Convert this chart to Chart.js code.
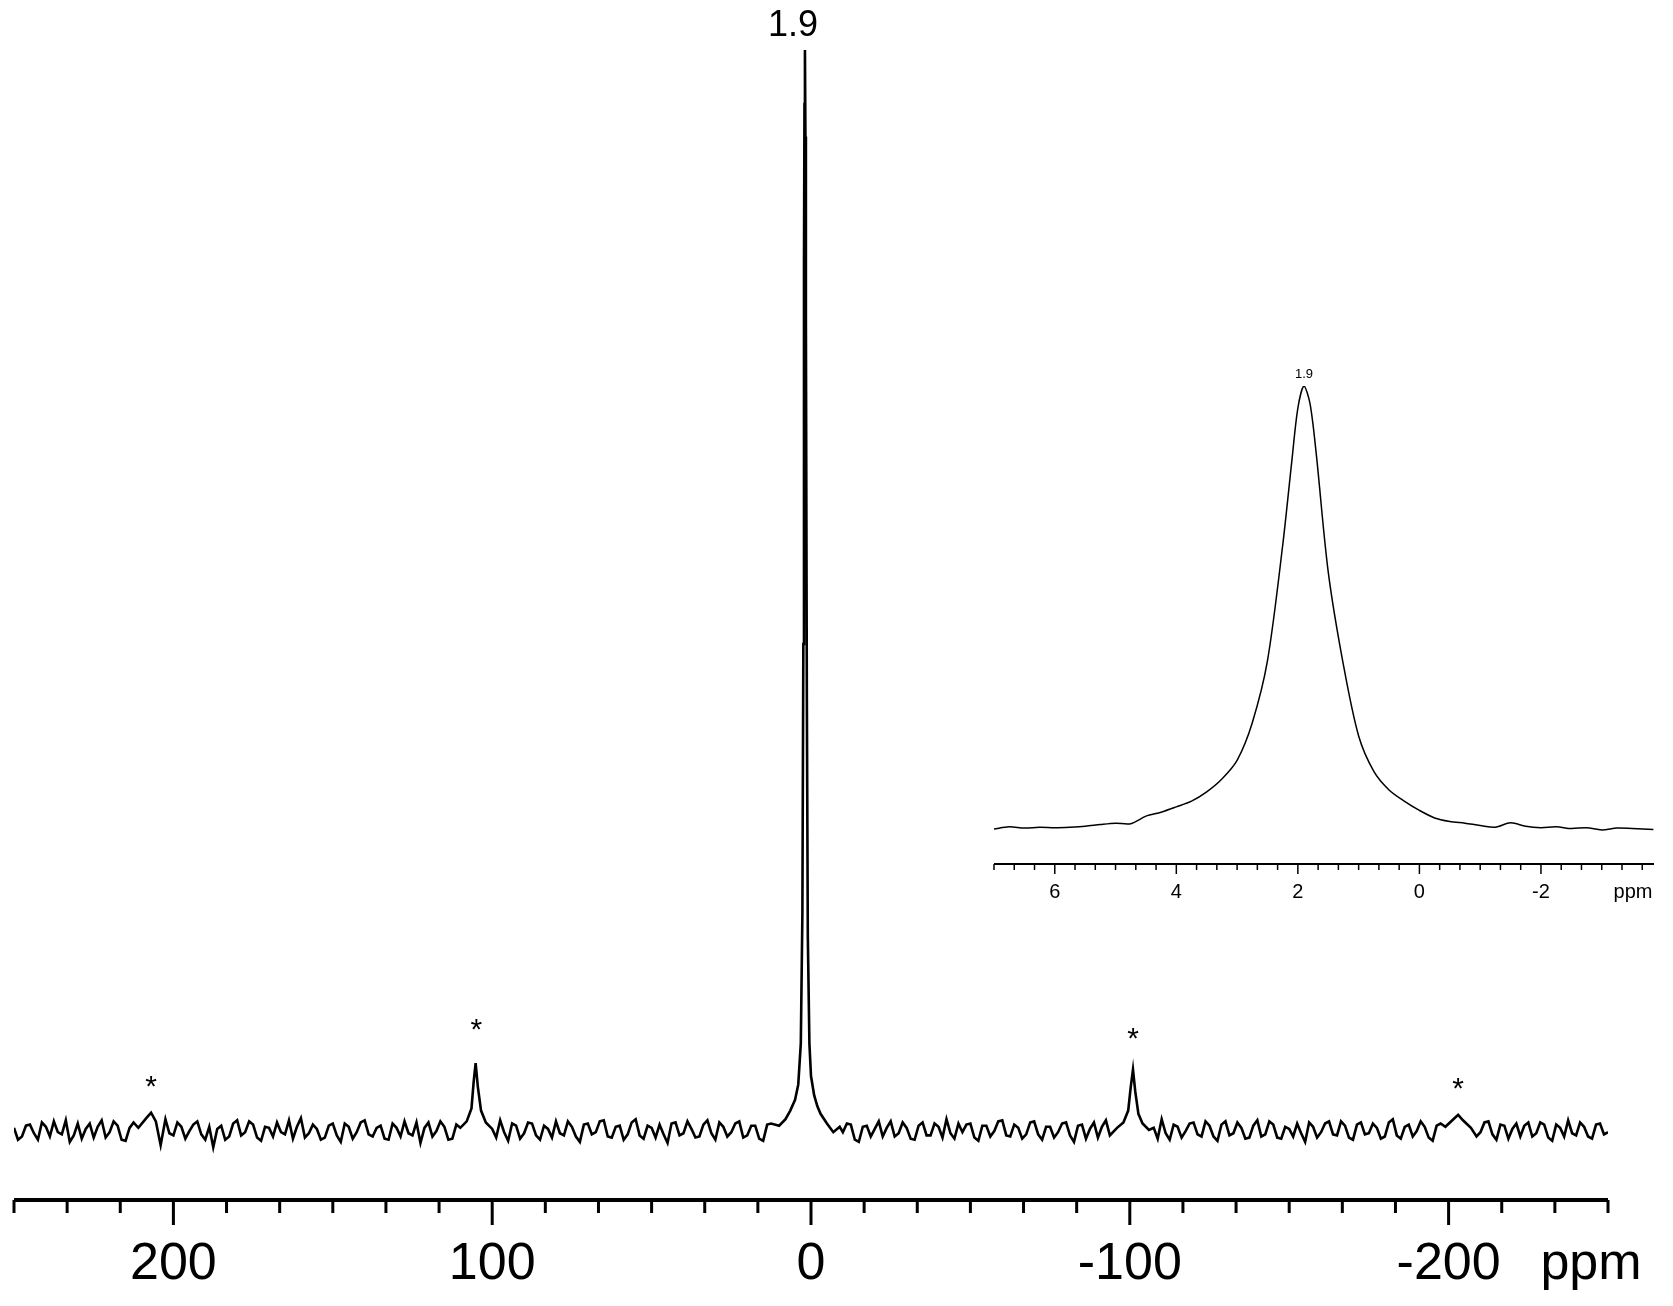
<!DOCTYPE html>
<html>
<head>
<meta charset="utf-8">
<script src="https://cdn.jsdelivr.net/npm/chart.js@4/dist/chart.umd.min.js"></script>
<style>
  html, body { margin: 0; padding: 0; background: #fff; }
  #wrap { position: relative; width: 1673px; height: 1306px; }
  #wrap canvas { position: absolute; left: 0; top: 0; }
</style>
</head>
<body>
<div id="wrap">
  <canvas id="main" width="1673" height="1306"></canvas>
  <canvas id="inset" width="1673" height="1306"></canvas>
</div>
<script>
// main spectrum: baseline noise every 2.5 ppm from 250 down to -250
const noiseStart = 250, noiseStep = 2.5;
const noise = [
  0.2,-0.6,0.5,-0.9,0.3,0.8,-0.4,-1.1,0.6,0.1,
  -0.7,0.9,-0.2,0.4,-1.0,0.7,-0.3,0.2,-0.8,1.0,
  -0.5,0.3,-0.1,0.8,-0.9,-1.6,0.4,-0.6,0.9,-0.2,
  0.5,-1.0,0.2,0.7,-0.4,-0.8,1.1,-0.3,0.1,-0.7,
  0.6,-1.1,0.3,-0.2,0.9,-0.6,0.4,-0.9,0.2,0.8,
  -0.5,-1.2,0.7,-0.1,0.3,-0.8,1.0,-0.4,0.5,-0.7,
  0.2,0.9,-1.0,0.4,-0.3,0.6,-0.9,0.1,0.8,-0.5,
  0.3,-1.1,0.6,-0.2,0.9,-0.7,0.4,-0.4,1.0,-0.8,
  0.2,0.5,-1.2,0.7,-0.3,0.1,-0.6,0.9,-0.9,0.3,
  -0.2,0.8,-0.5,0.4,-1.0,0.6,-0.1,0.2,-0.8,1.0,
  -0.4,0.3,-0.7,0.9,-0.2,0.5,-1.1,0.4,0.1,-0.6,
  0.8,-0.3,0.2,-0.9,0.7,-0.5,0.3,1.0,-0.8,-0.2,
  0.6,-1.0,0.4,-0.1,0.9,-0.6,0.2,-0.4,0.8,-0.9,
  0.3,-0.2,0.7,-1.1,0.5,0.1,-0.7,0.9,-0.3,0.4,
  -0.8,0.6,-0.5,0.2,1.0,-0.9,0.3,-0.1,0.7,-0.6,
  0.4,-1.0,0.8,-0.3,0.2,-0.7,0.9,-0.4,0.5,-0.8,
  0.1,0.6,-1.1,0.3,-0.2,0.8,-0.5,0.4,-0.9,0.7,
  -0.3,0.2,-0.6,1.0,-0.8,0.5,-0.1,0.3,-1.0,0.6,
  -0.4,0.9,-0.7,0.2,-0.2,0.8,-0.9,0.4,0.1,-0.6,
  0.7,-0.3,0.5,-1.0,0.2,0.9,-0.5,0.3,-0.8,0.6,
  -0.2
];
// noise read halfway between the points above (248.75, 246.25, ...)
const noiseMid = [
  -0.9,0.4,-0.3,0.7,-0.6,-0.2,0.9,-0.5,-0.8,0.6,
  0.3,-0.7,0.8,-0.9,0.2,-0.4,0.6,-1.0,0.5,-0.3,
  0.7,-0.8,0.5,-0.4,0.3,0.1,-0.9,0.6,-0.5,0.8,
  -0.7,0.3,-0.6,-0.2,0.9,0.3,-0.7,0.5,-0.9,0.4,
  -0.5,0.6,-0.8,0.7,-0.4,0.2,-0.8,0.6,-0.6,-0.3,
  0.7,0.2,-0.6,0.8,-0.9,0.5,-0.3,0.7,-0.8,0.4,
  -0.7,-0.2,0.6,-0.8,0.7,-0.5,0.4,-0.7,-0.3,0.8,
  -0.6,0.5,-0.4,0.8,-0.6,0.3,-0.9,0.7,-0.5,0.4,
  -0.7,-0.4,0.6,-0.5,0.8,-0.7,0.5,-0.3,0.7,-0.6,
  0.6,-0.7,0.4,-0.8,0.5,-0.4,0.8,-0.6,0.4,-0.5,
  0.7,-0.8,0.5,-0.4,0.6,-0.9,0.3,-0.6,0.8,0.2,
  -0.6,0.7,-0.8,0.4,-0.5,0.6,-0.7,-0.3,0.6,0.5,
  -0.7,0.4,-0.6,0.8,-0.5,0.5,-0.8,0.7,-0.4,0.3,
  -0.7,0.6,-0.5,0.4,-0.8,0.7,0.3,-0.5,0.6,-0.8,
  0.5,-0.4,0.7,-0.8,-0.3,0.5,-0.7,0.6,-0.4,0.8,
  -0.6,0.5,-0.5,0.7,-0.8,0.4,-0.6,0.8,-0.7,0.3,
  -0.6,-0.3,0.7,-0.7,0.6,-0.4,0.8,-0.7,0.5,-0.4,
  0.6,-0.8,0.7,-0.5,0.3,-0.6,0.8,-0.7,0.4,-0.5,
  0.7,-0.5,0.6,-0.6,0.7,-0.4,0.5,-0.8,0.6,0.4,
  -0.6,0.7,-0.7,0.5,-0.6,-0.3,0.7,-0.6,0.5,-0.4
];
// peaks: centre band and spinning sidebands (ppm, intensity)
const peakPpm = [10, 8, 6.5, 5, 4, 3.2, 2.7, 2.4, 2.2, 2.05, 1.9, 1.75, 1.6, 1.3, 1.0, 0.5, 0, -1, -2, -3, -5, -7, -9];
const peakVal = [0.4, 1.0, 1.8, 2.8, 4.2, 8, 20, 45, 80, 95, 100, 92, 75, 40, 18, 8, 5, 3.2, 2.2, 1.5, 0.6, -0.2, 0.3];
const sb1Ppm = [110, 108, 106.5, 105.8, 105.2, 104.5, 103.5, 102, 100];
const sb1Val = [0.2, 0.8, 2.0, 4.5, 6.2, 4.0, 1.8, 0.7, 0.1];
const sb2Ppm = [-96, -98, -99.5, -100.3, -101, -101.7, -102.7, -104, -106];
const sb2Val = [0.2, 0.7, 1.8, 4.0, 5.6, 3.6, 1.5, 0.6, 0.0];
const sb3Ppm = [211, 208.5, 207, 205.5, 204];
const sb3Val = [0.2, 1.1, 1.6, 0.8, -1.4];
const sb4Ppm = [-199, -201.5, -203, -204.5, -207];
const sb4Val = [0.3, 1.0, 1.4, 0.9, 0.2];
const starPpm = [207, 105, -101, -203];
const starVal = [4.3, 9.5, 8.7, 4.1];

// inset: expanded centre band
const insetPpm = [7.0, 6.75, 6.5, 6.25, 6.0, 5.75, 5.5, 5.25, 5.0, 4.75, 4.5, 4.25, 4.0, 3.75, 3.5, 3.25, 3.0, 2.75, 2.5, 2.25, 2.1, 2.0, 1.9, 1.8, 1.7, 1.5, 1.25, 1.0, 0.75, 0.5, 0.25, 0.0, -0.25, -0.5, -0.75, -1.0, -1.25, -1.5, -1.75, -2.0, -2.25, -2.5, -2.75, -3.0, -3.25, -3.5, -3.85];
const insetVal = [0.0, 0.5, 0.2, 0.4, 0.3, 0.4, 0.6, 1.0, 1.3, 1.2, 2.9, 3.8, 5.0, 6.3, 8.4, 11.3, 15.5, 24, 38, 64, 83, 95, 100, 96, 85, 58, 37, 21, 13, 8.8, 6.3, 4.2, 2.5, 1.7, 1.3, 0.8, 0.4, 1.4, 0.6, 0.3, 0.5, 0.1, 0.3, -0.2, 0.2, 0.1, -0.1];

const mainTicks = [200, 100, 0, -100, -200];
const insetTicks = [6, 4, 2, 0, -2];

// build the main trace
const windows = [[12, -9], [111, 99], [-95, -107], [212, 203], [-198, -208]];
const inWin = x => windows.some(w => x <= w[0] && x >= w[1]);
const pts = [];
noise.forEach((v, i) => {
  const x = noiseStart - i * noiseStep;
  if (!inWin(x)) pts.push({ x, y: v });
});
noiseMid.forEach((v, i) => {
  const x = noiseStart - noiseStep / 2 - i * noiseStep;
  if (!inWin(x)) pts.push({ x, y: v });
});
[[peakPpm, peakVal], [sb1Ppm, sb1Val], [sb2Ppm, sb2Val], [sb3Ppm, sb3Val], [sb4Ppm, sb4Val]].forEach(([xs, ys]) => {
  xs.forEach((x, i) => pts.push({ x, y: ys[i] }));
});
pts.sort((a, b) => b.x - a.x);

const font = 'Arial, "Liberation Sans", sans-serif';

function axisPlugin(cfg) {
  return {
    id: 'ppmAxis',
    afterDraw(chart) {
      const ctx = chart.ctx, xs = chart.scales.x, ys = chart.scales.y;
      const y0 = chart.chartArea.bottom;
      ctx.save();
      ctx.strokeStyle = '#000';
      ctx.fillStyle = '#000';
      ctx.lineWidth = cfg.axisWidth;
      ctx.beginPath();
      ctx.moveTo(xs.left, y0); ctx.lineTo(xs.right, y0);
      ctx.stroke();
      ctx.lineWidth = cfg.tickWidth;
      for (let k = -40; k <= 40; k++) {
        const v = cfg.minorBase + k * cfg.minorStep;
        if (v > xs.max + 1e-6 || v < xs.min - 1e-6) continue;
        const major = cfg.ticks.some(t => Math.abs(t - v) < 1e-6);
        const px = xs.getPixelForValue(v);
        ctx.beginPath();
        ctx.moveTo(px, y0);
        ctx.lineTo(px, y0 + (major ? cfg.majorLen : cfg.minorLen));
        ctx.stroke();
      }
      ctx.font = cfg.labelFont;
      ctx.textAlign = 'center';
      ctx.textBaseline = 'middle';
      cfg.ticks.forEach(t => ctx.fillText(String(t), xs.getPixelForValue(t), cfg.labelY));
      ctx.fillText('ppm', cfg.ppmX, cfg.labelY);
      ctx.font = cfg.peakFont;
      ctx.textBaseline = 'alphabetic';
      ctx.fillText('1.9', xs.getPixelForValue(1.9) + cfg.peakDx, ys.getPixelForValue(100) - cfg.peakGap);
      if (cfg.stars) {
        ctx.font = '30px ' + font;
        cfg.stars.ppm.forEach((p, i) => {
          ctx.fillText('*', xs.getPixelForValue(p), ys.getPixelForValue(cfg.stars.val[i]) + 12);
        });
      }
      ctx.restore();
    }
  };
}

new Chart(document.getElementById('main'), {
  type: 'line',
  data: { datasets: [{ data: pts, borderColor: '#000', borderWidth: 2.6, pointRadius: 0, tension: 0 }] },
  options: {
    responsive: false, animation: false,
    layout: { padding: { left: 14, right: 65, top: 50, bottom: 106 } },
    plugins: { legend: { display: false }, tooltip: { enabled: false } },
    scales: {
      x: { type: 'linear', min: -250, max: 250, reverse: true, display: false },
      y: { min: -6.48, max: 100, display: false }
    }
  },
  plugins: [axisPlugin({
    axisWidth: 4, tickWidth: 3, majorLen: 25, minorLen: 13,
    minorBase: 200, minorStep: 100 / 6, ticks: mainTicks,
    labelFont: '52px ' + font, labelY: 1265, ppmX: 1591,
    peakFont: '36px ' + font, peakDx: -12, peakGap: 14,
    stars: { ppm: starPpm, val: starVal }
  })]
});

new Chart(document.getElementById('inset'), {
  type: 'line',
  data: { datasets: [{ data: insetPpm.map((x, i) => ({ x, y: insetVal[i] })), borderColor: '#000', borderWidth: 1.5, pointRadius: 0, tension: 0.3 }] },
  options: {
    responsive: false, animation: false,
    layout: { padding: { left: 994, right: 19, top: 386, bottom: 442 } },
    plugins: { legend: { display: false }, tooltip: { enabled: false } },
    scales: {
      x: { type: 'linear', min: -3.86, max: 7, reverse: true, display: false },
      y: { min: -7.9, max: 100, display: false }
    }
  },
  plugins: [axisPlugin({
    axisWidth: 2, tickWidth: 1.5, majorLen: 10, minorLen: 6,
    minorBase: 6, minorStep: 1 / 3, ticks: insetTicks,
    labelFont: '20px ' + font, labelY: 892, ppmX: 1633,
    peakFont: '13px ' + font, peakDx: 0, peakGap: 8
  })]
});
</script>
</body>
</html>
